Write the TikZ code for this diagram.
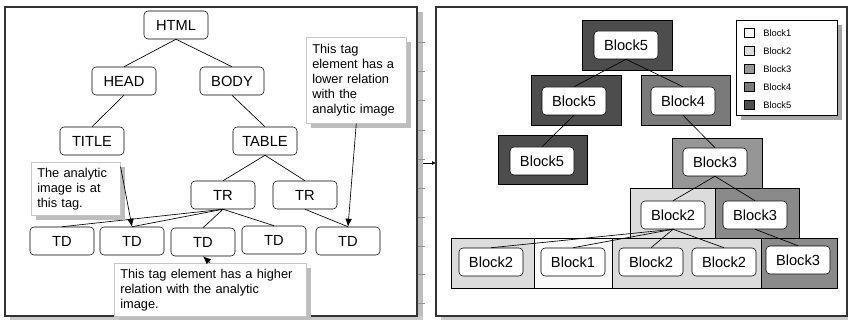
\documentclass[tikz,border=0pt]{standalone}
\usepackage{fontspec}
\setmainfont{Liberation Sans}
\usetikzlibrary{arrows.meta,shadows}
\definecolor{bone}{HTML}{FAFAFA}
\definecolor{btwo}{HTML}{DCDCDC}
\definecolor{bthree}{HTML}{969696}
\definecolor{bfour}{HTML}{7A7A7A}
\definecolor{bfive}{HTML}{4D4D4D}
\definecolor{framec}{HTML}{333333}
\definecolor{shadec}{HTML}{BDBDBD}
\tikzset{
  tag/.style={draw, rounded corners=3pt, minimum width=48pt, minimum height=21pt,
    inner sep=0pt, fill=white, font=\fontsize{11}{13}\selectfont},
  blk/.style={tag},
  tip/.style={draw=gray!45, fill=white, align=left, anchor=north west,
    inner xsep=4.5pt, inner ysep=2pt, font=\fontsize{9.6}{11.25}\selectfont,
    drop shadow={fill=shadec, opacity=1, shadow xshift=3.5pt, shadow yshift=-3.5pt}},
  edge/.style={draw, line width=0.5pt},
  pointer/.style={draw, line width=0.5pt, -{Latex[length=6pt,width=5pt]}},
  outer/.style={draw, line width=0.6pt},
  legsq/.style={draw, minimum width=7.5pt, minimum height=7pt, inner sep=0pt},
  legtx/.style={anchor=west, inner sep=0pt, font=\fontsize{7}{8}\selectfont},
}
\begin{document}
\begin{tikzpicture}[x=0.75pt,y=-0.75pt]
\useasboundingbox (0,0) rectangle (848,320);
\fill[white] (0,0) rectangle (848,320);

% ---------- left panel ----------
\fill[shadec] (417,12) rectangle (423,320);
\fill[shadec!80] (10,316) rectangle (423,320);
\foreach \yy in {42,71,100,130,159,188,217,246,274,303}
  \draw[gray!85, line width=0.4pt] (417,\yy) -- (425,\yy);
\draw[framec, line width=0.9pt] (5,7) rectangle (417,316);

\node[tag] (html) at (176,25) {HTML};
\node[tag] (head) at (124,81) {HEAD};
\node[tag] (body) at (232,81) {BODY};
\node[tag] (title) at (92,141) {TITLE};
\node[tag] (table) at (265,141) {TABLE};
\node[tag] (tr1) at (223,195) {TR};
\node[tag] (tr2) at (305,195) {TR};
\node[tag] (td1) at (62,241) {TD};
\node[tag] (td2) at (132,241) {TD};
\node[tag] (td3) at (203,242) {TD};
\node[tag] (td4) at (274,240) {TD};
\node[tag] (td5) at (348,241) {TD};

\path[edge] (html.south) -- (head.north);
\path[edge] (html.south) -- (body.north);
\path[edge] (head.south) -- (title.north);
\path[edge] (body.south) -- (table.north);
\path[edge] (table.south) -- (tr1.north);
\path[edge] (table.south) -- (tr2.north);
\path[edge] (tr1.south) -- (td1.north);
\path[edge] (tr1.south) -- (td2.north);
\path[edge] (tr1.south) -- (td3.north);
\path[edge] (tr1.south) -- (td4.north);
\path[edge] (tr2.south) -- (td5.north);

\node[tip, text width=66pt, minimum height=64.5pt] (tip1) at (306,37)
  {This tag\\element has a\\lower relation\\with the\\analytic image};
\node[tip, text width=57.75pt, minimum height=39.75pt] (tip2) at (31,162)
  {The analytic\\image is at\\this tag.};
\node[tip, text width=135pt, minimum height=39.75pt] (tip3) at (114,263)
  {This tag element has a higher\\relation with the analytic\\image.};

\path[pointer] (tip1.south) -- (td5.north);
\path[pointer] ([yshift=-3.5pt]tip2.north east) -- (td2.north);
\path[pointer] (tip3.north) -- (td3.south);

% ---------- connector between panels ----------
\coordinate (linkL) at (423,163);
\coordinate (linkR) at (436,163);
\draw[line width=0.5pt, -{Latex[length=3pt,width=3pt]}] (linkL) -- (linkR);

% ---------- right panel ----------
\fill[shadec!80] (441,316) rectangle (848,320);
\draw[framec, line width=0.9pt] (436,7) rectangle (847,316);

\path[outer, fill=bfive] (582,20) rectangle (672,70);
\path[outer, fill=bfive] (531,75) rectangle (621,125);
\path[outer, fill=bfour] (641,75) rectangle (730,125);
\path[outer, fill=bfive] (498,135) rectangle (587,184);
\path[outer, fill=bthree] (672,138) rectangle (762,188);
\path[outer, fill=btwo] (630,188) rectangle (715,238);
\path[outer, fill=bthree!92!black] (715,188) rectangle (799,238);
\path[outer, fill=btwo] (451,238) rectangle (534,288);
\path[outer, fill=bone] (534,238) rectangle (612,288);
\path[outer, fill=btwo] (612,238) rectangle (761,288);
\path[outer, fill=bthree!92!black] (761,238) rectangle (837,288);

\node[blk] (r1) at (626,45) {Block5};
\node[blk] (r2a) at (574,101) {Block5};
\node[blk] (r2b) at (683,101) {Block4};
\node[blk] (r3a) at (542,161) {Block5};
\node[blk] (r3b) at (715,162) {Block3};
\node[blk] (r4a) at (673,215) {Block2};
\node[blk] (r4b) at (755,215) {Block3};
\node[blk] (r5a) at (491,262) {Block2};
\node[blk] (r5b) at (573,262) {Block1};
\node[blk] (r5c) at (651,262) {Block2};
\node[blk] (r5d) at (724,262) {Block2};
\node[blk] (r5e) at (798,260) {Block3};

\path[edge] (r1.south) -- (r2a.north);
\path[edge] (r1.south) -- (r2b.north);
\path[edge] (r2a.south) -- (r3a.north);
\path[edge] (r2b.south) -- (r3b.north);
\path[edge] (r3b.south) -- (r4a.north);
\path[edge] (r3b.south) -- (r4b.north);
\path[edge] (r4a.south) -- (r5a.north);
\path[edge] (r4a.south) -- (r5b.north);
\path[edge] (r4a.south) -- (r5c.north);
\path[edge] (r4a.south) -- (r5d.north);
\path[edge] (r4b.south) -- (r5e.north);

% legend
\node[draw, fill=white, minimum width=75.75pt, minimum height=71.25pt, inner sep=0pt,
  drop shadow={fill=gray!70, opacity=1, shadow xshift=3.5pt, shadow yshift=-3.5pt}]
  (legend) at (786.5,67.5) {};
\node[legsq, fill=bone] (l1) at (749,33) {};
\node[legsq, fill=btwo] (l2) at (749,51) {};
\node[legsq, fill=bthree] (l3) at (749,69) {};
\node[legsq, fill=bfour] (l4) at (749,87) {};
\node[legsq, fill=bfive] (l5) at (749,105) {};
\node[legtx] (t1) at (763,33) {Block1};
\node[legtx] (t2) at (763,51) {Block2};
\node[legtx] (t3) at (763,69) {Block3};
\node[legtx] (t4) at (763,87) {Block4};
\node[legtx] (t5) at (763,105) {Block5};
\end{tikzpicture}
\end{document}
